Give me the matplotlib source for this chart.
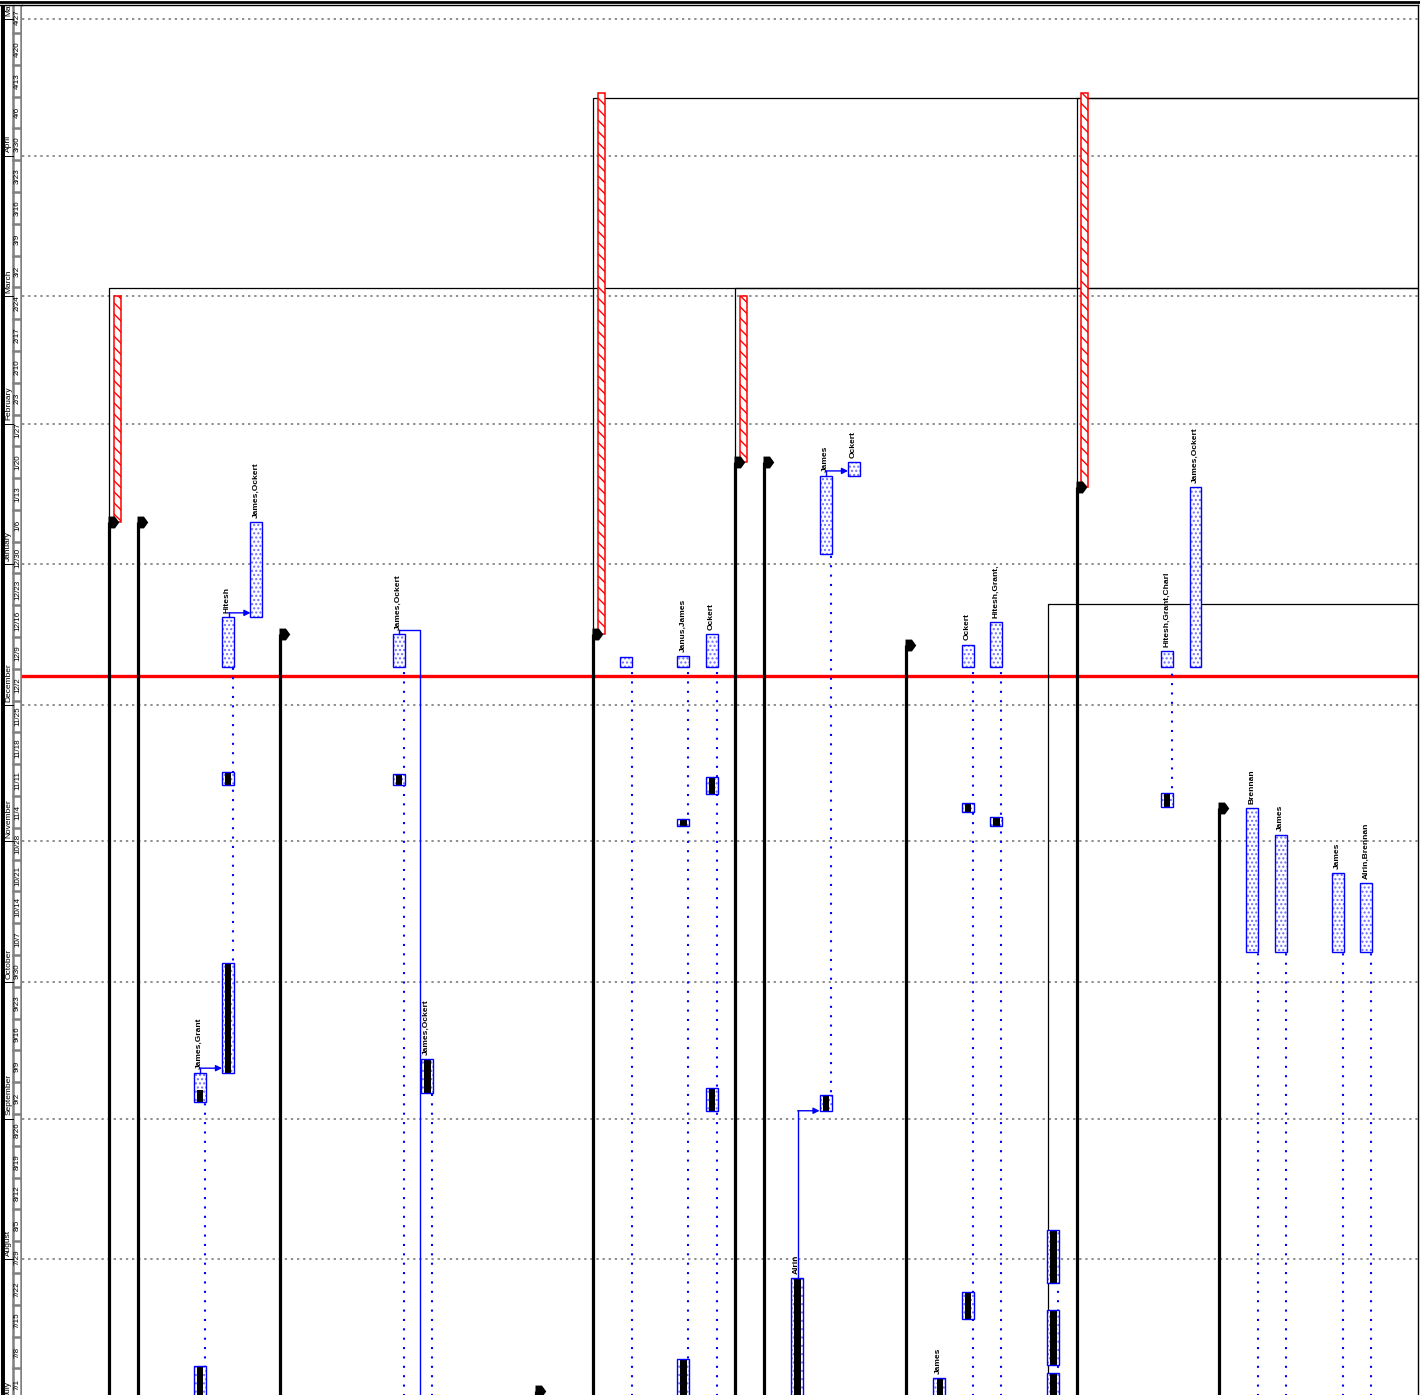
import matplotlib
matplotlib.use('Agg')
import matplotlib.pyplot as plt
import matplotlib.dates as mdates
from matplotlib.patches import Rectangle
from matplotlib.path import Path
from matplotlib.lines import Line2D
import pandas as pd

plt.rcParams['font.family'] = ['Liberation Sans', 'DejaVu Sans']

# ---------------- data ----------------
week_labels = ['7/1', '7/8', '7/15', '7/22', '7/29', '8/5', '8/12', '8/19', '8/26',
               '9/2', '9/9', '9/16', '9/23', '9/30', '10/7', '10/14', '10/21', '10/28',
               '11/4', '11/11', '11/18', '11/25', '12/2', '12/9', '12/16', '12/23', '12/30',
               '1/6', '1/13', '1/20', '1/27', '2/3', '2/10', '2/17', '2/24', '3/2', '3/9',
               '3/16', '3/23', '3/30', '4/6', '4/13', '4/20', '4/27']
first_week = '2013-07-01'
month_names = ['July', 'August', 'September', 'October', 'November', 'December',
               'January', 'February', 'March', 'April', 'May']
month_starts = ['2013-07-01', '2013-08-01', '2013-09-01', '2013-10-01', '2013-11-01',
                '2013-12-01', '2014-01-01', '2014-02-01', '2014-03-01', '2014-04-01',
                '2014-05-01']
status_date = '2013-12-07 10:00'

# summary tasks (thick black bar ending in a flag)
summary_rows = [0, 1, 6, 15, 17, 22, 23, 28, 34, 39]
summary_ends = ['2014-01-10 08:00', '2014-01-10 08:00', '2013-12-16 17:00', '2013-07-02 22:00',
                '2013-12-16 17:00', '2014-01-23 14:00', '2014-01-23 14:00', '2013-12-14 08:00',
                '2014-01-18 00:00', '2013-11-08 10:00']

# slack (red hatched)
slack_rows = [0, 17, 22, 34]
slack_starts = ['2014-01-10 08:00', '2013-12-16 17:00', '2014-01-23 14:00', '2014-01-18 00:00']
slack_ends = ['2014-03-01 02:00', '2014-04-14 19:00', '2014-03-01 02:00', '2014-04-14 19:00']

# thin black connector lines (vertical then to right edge)
conn_rows = [0, 17, 22, 34, 33]
conn_from = ['2014-01-10 08:00', '2013-12-16 17:00', '2014-01-23 14:00', '2014-01-18 00:00', '2013-06-20']
conn_to = ['2014-03-02 22:00', '2014-04-13 17:00', '2014-03-02 22:00', '2014-04-13 17:00', '2013-12-23 07:00']

# task segments
seg_rows = [3, 3, 4, 4, 4, 5, 10, 10, 11, 18, 20, 20, 20, 21, 21, 21, 24, 25, 25, 26, 29,
            30, 30, 30, 31, 31, 33, 33, 33, 37, 37, 38, 40, 41, 43, 44]
seg_starts = ['2013-06-24', '2013-09-04 14:00',
              '2013-09-11 00:00', '2013-11-13 10:00', '2013-12-09 10:00',
              '2013-12-20 10:00',
              '2013-11-13 10:00', '2013-12-09 10:00',
              '2013-09-06 14:00',
              '2013-12-09 10:00',
              '2013-06-24', '2013-11-04 10:00', '2013-12-09 10:00',
              '2013-09-02 17:00', '2013-11-11 10:00', '2013-12-09 10:00',
              '2013-06-24',
              '2013-09-02 17:00', '2014-01-03 07:00',
              '2014-01-20 12:00',
              '2013-06-24',
              '2013-07-18 19:00', '2013-11-07 12:00', '2013-12-09 10:00',
              '2013-11-04 10:00', '2013-12-09 10:00',
              '2013-06-24', '2013-07-08 17:00', '2013-07-26 19:00',
              '2013-11-08 14:00', '2013-12-09 10:00',
              '2013-12-09 10:00',
              '2013-10-07 14:00', '2013-10-07 14:00', '2013-10-07 14:00', '2013-10-07 14:00']
seg_ends = ['2013-07-08 10:00', '2013-09-11 00:00',
            '2013-10-05 05:00', '2013-11-16 08:00', '2013-12-20 10:00',
            '2014-01-10 08:00',
            '2013-11-15 20:00', '2013-12-16 17:00',
            '2013-09-14 03:00',
            '2013-12-11 14:00',
            '2013-07-10 03:00', '2013-11-05 22:00', '2013-12-11 19:00',
            '2013-09-07 17:00', '2013-11-15 05:00', '2013-12-16 17:00',
            '2013-07-27 22:00',
            '2013-09-06 05:00', '2014-01-20 12:00',
            '2014-01-23 14:00',
            '2013-07-05 20:00',
            '2013-07-24 19:00', '2013-11-09 12:00', '2013-12-14 08:00',
            '2013-11-06 10:00', '2013-12-19 07:00',
            '2013-07-07 00:00', '2013-07-20 19:00', '2013-08-07 12:00',
            '2013-11-11 17:00', '2013-12-12 22:00',
            '2014-01-18 00:00',
            '2013-11-08 10:00', '2013-11-02 10:00', '2013-10-25 00:00', '2013-10-22 19:00']
seg_done = [1, 0.42,
            1, 1, 0,
            0,
            1, 0,
            1,
            0,
            1, 1, 0,
            1, 1, 0,
            1,
            1, 0,
            0,
            1,
            1, 1, 0,
            1, 0,
            1, 1, 1,
            1, 0,
            0,
            0, 0, 0, 0]

label_rows = [3, 4, 5, 10, 11, 20, 21, 24, 25, 26, 29, 30, 31, 37, 38, 40, 41, 43, 44]
label_texts = ['James,Grant', 'Hitesh', 'James,Ockert', 'James,Ockert', 'James,Ockert',
               'Janus,James', 'Ockert', 'Alrin', 'James', 'Ockert', 'James', 'Ockert',
               'Hitesh,Grant,', 'Hitesh,Grant,Charl', 'James,Ockert', 'Brennan', 'James',
               'James', 'Alrin,Brennan']

# dotted split connectors
dot_rows = [3, 4, 10, 11, 18, 20, 21, 25, 30, 31, 33, 37, 40, 41, 43, 44]
dot_lo = ['2013-06-24', '2013-09-11', '2013-06-24', '2013-06-24', '2013-06-24', '2013-06-24',
          '2013-06-24', '2013-09-02 17:00', '2013-06-24', '2013-06-24', '2013-06-24',
          '2013-11-08 14:00', '2013-06-24', '2013-06-24', '2013-06-24', '2013-06-24']
dot_hi = ['2013-09-04 14:00', '2013-12-09 10:00', '2013-12-09 10:00', '2013-09-06 14:00',
          '2013-12-09 10:00', '2013-12-09 10:00', '2013-12-09 10:00', '2014-01-03 07:00',
          '2013-12-09 10:00', '2013-12-09 10:00', '2013-07-26 19:00', '2013-12-09 10:00',
          '2013-10-07 14:00', '2013-10-07 14:00', '2013-10-07 14:00', '2013-10-07 14:00']

# blue dependency links
link_from = [3, 4, 10, 24, 25]
link_to = [4, 5, 11, 25, 26]
link_start = ['2013-09-11 00:00', '2013-12-20 10:00', '2013-12-16 17:00', '2013-07-27 22:00', '2014-01-20 12:00']
link_turn = ['2013-09-12 02:00', '2013-12-21 08:00', '2013-12-17 14:00', '2013-09-02 17:00', '2014-01-21 14:00']
link_down = [None, None, '2013-06-20', None, None]


def d(s):
    return mdates.date2num(pd.Timestamp(s))


W, H = 1420, 1395
fig = plt.figure(figsize=(W / 100, H / 100), dpi=100)
ax_top = 1 - 5 / H
ax = fig.add_axes([22 / W, 0, (1418 - 22) / W, ax_top])
ymin, ymax = d('2013-07-02 03:00'), d('2014-05-04 04:00')
xmin, xmax = -3.09, 45.97
ax.set_xlim(xmin, xmax)
ax.set_ylim(ymin, ymax)
ax.set_xticks([])
ax.set_yticks([])
for s in ['left', 'bottom']:
    ax.spines[s].set_visible(False)
ax.spines['top'].set_linewidth(1)
ax.spines['right'].set_linewidth(1)

# month gridlines
for ms in month_starts[1:]:
    ax.axhline(d(ms), color='#707070', ls=(0, (1.5, 2.5)), lw=1.1, zorder=1)

# status line
ax.axhline(d(status_date), color='red', lw=2.4, zorder=2)

# dotted split connectors
for r, lo, hi in zip(dot_rows, dot_lo, dot_hi):
    ax.plot([r + 0.33] * 2, [d(lo), d(hi)], color='blue', ls=(0, (1, 3.5)), lw=1.5, zorder=3)

# thin black connector lines
for r, a, b in zip(conn_rows, conn_from, conn_to):
    ax.plot([r - 0.03, r - 0.03, xmax], [d(a), d(b), d(b)], color='black', lw=0.9, zorder=3)

# slack
for r, a, b in zip(slack_rows, slack_starts, slack_ends):
    ax.add_patch(Rectangle((r + 0.14, d(a)), 0.25, d(b) - d(a), facecolor='white',
                           edgecolor='red', hatch='\\\\\\', lw=1.1, zorder=4))

# summary bars with flag
flag = Path([(0, 0.55), (0.6, 0.55), (1.0, 0.0), (0.6, -0.55), (0, -0.55), (0, 0.55)],
            [Path.MOVETO, Path.LINETO, Path.LINETO, Path.LINETO, Path.LINETO, Path.CLOSEPOLY])
for r, e in zip(summary_rows, summary_ends):
    ax.plot([r - 0.03] * 2, [d('2013-06-20'), d(e)], color='black', lw=2.3,
            solid_capstyle='butt', zorder=5)
    ax.plot([r - 0.06], [d(e)], marker=flag, markersize=15.5, color='black',
            markeredgewidth=0, zorder=5)

# task segments
for r, s, e, dn in zip(seg_rows, seg_starts, seg_ends, seg_done):
    y0, y1 = d(s), d(e)
    ax.add_patch(Rectangle((r - 0.06, y0), 0.42, y1 - y0, facecolor='white',
                           edgecolor='#6f6fff', hatch='....', lw=0, zorder=5))
    if dn > 0:
        ax.add_patch(Rectangle((r + 0.05, y0), 0.22, (y1 - y0) * dn, facecolor='black',
                               edgecolor='none', zorder=5.5))
    ax.add_patch(Rectangle((r - 0.06, y0), 0.42, y1 - y0, fill=False,
                           edgecolor='blue', lw=1, zorder=6))

# labels above the last segment of each task
for r, t in zip(label_rows, label_texts):
    top = max(d(e) for rr, e in zip(seg_rows, seg_ends) if rr == r)
    ax.annotate(t, xy=(r + 0.13, top), xytext=(0, 3), textcoords='offset points',
                rotation=90, ha='center', va='bottom', fontsize=6, fontweight='bold',
                zorder=7)

# blue links
for f, t, a, b, dn in zip(link_from, link_to, link_start, link_turn, link_down):
    xf = f + 0.17
    ax.plot([xf, xf], [d(a), d(b)], color='blue', lw=1, zorder=6)
    if dn is None:
        ax.annotate('', xy=(t - 0.06, d(b)), xytext=(xf, d(b)),
                    arrowprops=dict(arrowstyle='-|>', color='blue', lw=1,
                                    mutation_scale=9, shrinkA=0, shrinkB=0), zorder=6)
    else:
        ax.plot([xf, t - 0.1, t - 0.1], [d(b), d(b), d(dn)], color='blue', lw=1, zorder=6)

# ---------------- timescale ----------------
axt = fig.add_axes([0, 0, 22 / W, ax_top], sharey=ax)
axt.set_xlim(0, 22)
axt.set_ylim(ymin, ymax)
axt.set_xticks([])
axt.set_yticks([])
for s in ['left', 'bottom', 'right']:
    axt.spines[s].set_visible(False)
axt.spines['top'].set_linewidth(1)
axt.axvline(2, color='black', lw=2.2)
axt.axvline(4.3, color='black', lw=0.7)
axt.axvline(13.3, color='#808080', lw=1.8)
axt.axvline(21.4, color='#808080', lw=1.8)
w0 = d(first_week)
for k, lbl in enumerate(week_labels):
    ys = w0 + 7 * k
    axt.plot([13.3, 21.4], [ys, ys], color='#808080', lw=1.8)
    axt.text(17.5, ys + 3.5, lbl, rotation=90, ha='center', va='center',
             fontsize=5.8, clip_on=True)
for name, ms in zip(month_names, month_starts):
    axt.plot([4.3, 13.3], [d(ms)] * 2, color='black', lw=0.7)
    axt.text(8.8, d(ms) + 0.8, name, rotation=90, ha='center', va='bottom',
             fontsize=6, clip_on=True)

fig.add_artist(Line2D([0, 1], [1 - 1.5 / H] * 2, transform=fig.transFigure,
                      color='black', lw=2))

fig.savefig('out.png', dpi=100)
